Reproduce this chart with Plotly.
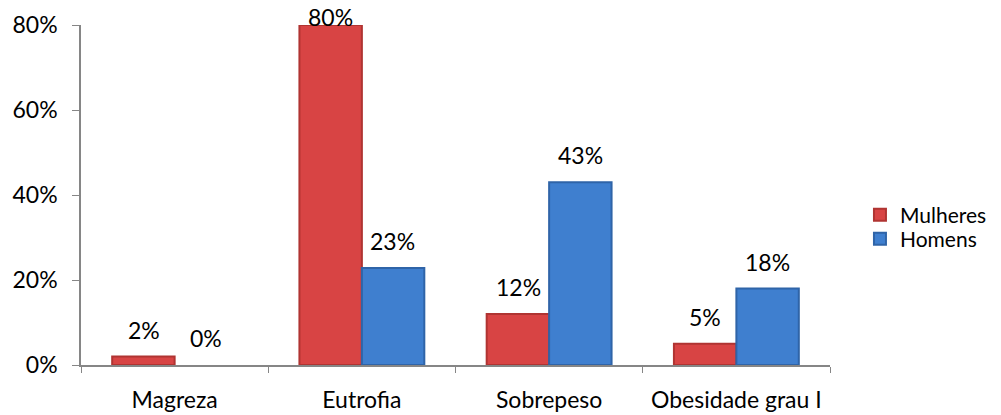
import plotly.graph_objects as go

categories = ["Magreza", "Eutrofia", "Sobrepeso", "Obesidade grau I"]
mulheres = [0.02, 0.80, 0.12, 0.05]
homens = [0.00, 0.228, 0.43, 0.18]
tick_vals = [0, 0.2, 0.4, 0.6, 0.8]
tick_text = ["0%", "20%", "40%", "60%", "80%"]

FONT = "Lato"
FS = 23
red = "#D84444"
blue = "#3F7FCF"


def widths(vals):
    return [0 if v == 0 else 2 for v in vals]


fig = go.Figure()
fig.add_trace(go.Bar(name="Mulheres", x=categories, y=mulheres, legend="legend",
                     marker=dict(color=red, line=dict(color="#B03432", width=widths(mulheres)))))
fig.add_trace(go.Bar(name="Homens", x=categories, y=homens, legend="legend2",
                     marker=dict(color=blue, line=dict(color="#2F64A8", width=widths(homens)))))

bar_px = 31
for series, shift in ((mulheres, -bar_px), (homens, bar_px)):
    for c, v in zip(categories, series):
        fig.add_annotation(x=c, y=v, xref="x", yref="y", text=f"{round(v*100)}%",
                           showarrow=False, xshift=shift,
                           yshift=8 if v >= 0.75 else 27,
                           font=dict(family=FONT, size=FS, color="#000"))

leg = dict(xanchor="left", yanchor="middle", font=dict(family=FONT, size=21),
           itemsizing="constant", bgcolor="rgba(0,0,0,0)", x=1.04,
           borderwidth=0, tracegroupgap=0)
fig.update_layout(
    width=1001, height=415,
    margin=dict(l=81, r=171, t=25, b=50, autoexpand=False),
    paper_bgcolor="white", plot_bgcolor="white",
    barmode="group", bargap=0.333, bargroupgap=0,
    font=dict(family=FONT, size=FS, color="#000"),
    showlegend=True,
    legend=dict(leg, y=1 - (215 - 25) / 340),
    legend2=dict(leg, y=1 - (239 - 25) / 340),
)
fig.update_xaxes(showline=True, linecolor="#868686", linewidth=1.5,
                 ticks="outside", tickson="boundaries", ticklen=6,
                 tickcolor="#868686", showgrid=False, tickfont=dict(size=FS),
                 ticklabelstandoff=14, automargin=False)
fig.update_yaxes(range=[0, 0.8], tickvals=tick_vals, ticktext=tick_text,
                 showline=True, linecolor="#868686", linewidth=1.5,
                 ticks="outside", ticklen=7, tickcolor="#868686",
                 showgrid=False, zeroline=False, tickfont=dict(size=FS),
                 ticklabelstandoff=10, automargin=False)

fig.write_html("out.html")
